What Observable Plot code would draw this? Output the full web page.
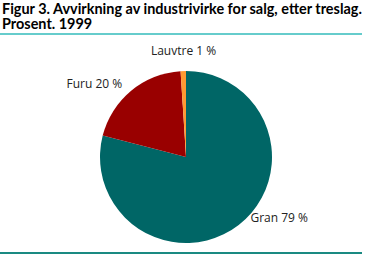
<!DOCTYPE html>
<html>
<head>
<meta charset="utf-8">
<script src="https://cdn.jsdelivr.net/npm/d3@7"></script>
<script src="https://cdn.jsdelivr.net/npm/@observablehq/plot@0.6"></script>
<style>
  html, body { margin: 0; padding: 0; background: #fff; }
  #wrap { position: relative; width: 370px; height: 256px; overflow: hidden; font-family: "Open Sans", sans-serif; }
  .tl { position: absolute; left: 2px; width: 366px; font-family: Lato, "Open Sans", sans-serif; font-weight: bold; font-size: 13px; line-height: 14px; color: #000; white-space: nowrap; }
  #t1 { top: 2px; }
  #t2 { top: 17px; }
  #topline { position: absolute; left: 0; top: 33px; width: 362px; height: 2px; background: #66cccc; }
  #bottomline { position: absolute; left: 0; top: 252px; width: 362px; height: 2px; background: #1a8a82; }
  #chart { position: absolute; left: 0; top: 36px; }
</style>
</head>
<body>
<div id="wrap">
  <div class="tl" id="t1"><span id="t1s">Figur 3. Avvirkning av industrivirke for salg, etter treslag.</span></div>
  <div class="tl" id="t2">Prosent. 1999</div>
  <div id="topline"></div>
  <div id="chart"></div>
  <div id="bottomline"></div>
</div>
<script>
const categories = ["Gran", "Furu", "Lauvtre"];
const values = [79, 20, 1];
const labels = ["Gran 79 %", "Furu 20 %", "Lauvtre 1 %"];
const colors = ["#006666", "#990000", "#ff9933"];

// fit title font to width
(function () {
  const w = document.getElementById("t1s").getBoundingClientRect().width;
  const fs = 13 * 360 / w;
  document.querySelectorAll(".tl").forEach(el => el.style.fontSize = fs.toFixed(2) + "px");
})();

const data = categories.map((c, i) => ({category: c, value: values[i], label: labels[i]}));
const arcs = d3.pie().sort(null).value(d => d.value)(data);
const labelR = 1.1;
const labelData = arcs.map(a => {
  const mid = (a.startAngle + a.endAngle) / 2;
  return {label: a.data.label, x: Math.sin(mid) * labelR, y: Math.cos(mid) * labelR};
});

const pieMark = (index, scales) => {
  const cx = scales.x(0), cy = scales.y(0);
  const r = Math.abs(scales.x(1) - scales.x(0));
  const arc = d3.arc().innerRadius(0).outerRadius(r);
  const g = d3.create("svg:g").attr("transform", `translate(${cx},${cy})`);
  g.selectAll("path").data(arcs).join("path")
    .attr("d", arc)
    .attr("fill", d => scales.color(d.data.category));
  return g.node();
};

const textStyle = {fontFamily: "Open Sans, sans-serif", fontSize: 12, fill: "#222"};

const plot = Plot.plot({
  width: 370,
  height: 216,
  margin: 0,
  x: {domain: [-1, 1], range: [100, 272], axis: null},
  y: {domain: [-1, 1], range: [207, 35], axis: null},
  color: {domain: categories, range: colors},
  style: {background: "transparent"},
  marks: [
    Plot.dot(data, {x: () => 0, y: () => 0, r: 0, fill: "category"}),
    pieMark,
    Plot.text(labelData.filter(d => d.x < -0.2), {x: "x", y: "y", text: "label", textAnchor: "end", dx: -4, ...textStyle}),
    Plot.text(labelData.filter(d => d.x > 0.2), {x: "x", y: "y", text: "label", textAnchor: "start", dx: 6, dy: -14, ...textStyle}),
    Plot.text(labelData.filter(d => Math.abs(d.x) <= 0.2), {x: "x", y: "y", text: "label", textAnchor: "middle", lineAnchor: "bottom", dy: -8, ...textStyle})
  ]
});
document.getElementById("chart").appendChild(plot);
</script>
</body>
</html>
